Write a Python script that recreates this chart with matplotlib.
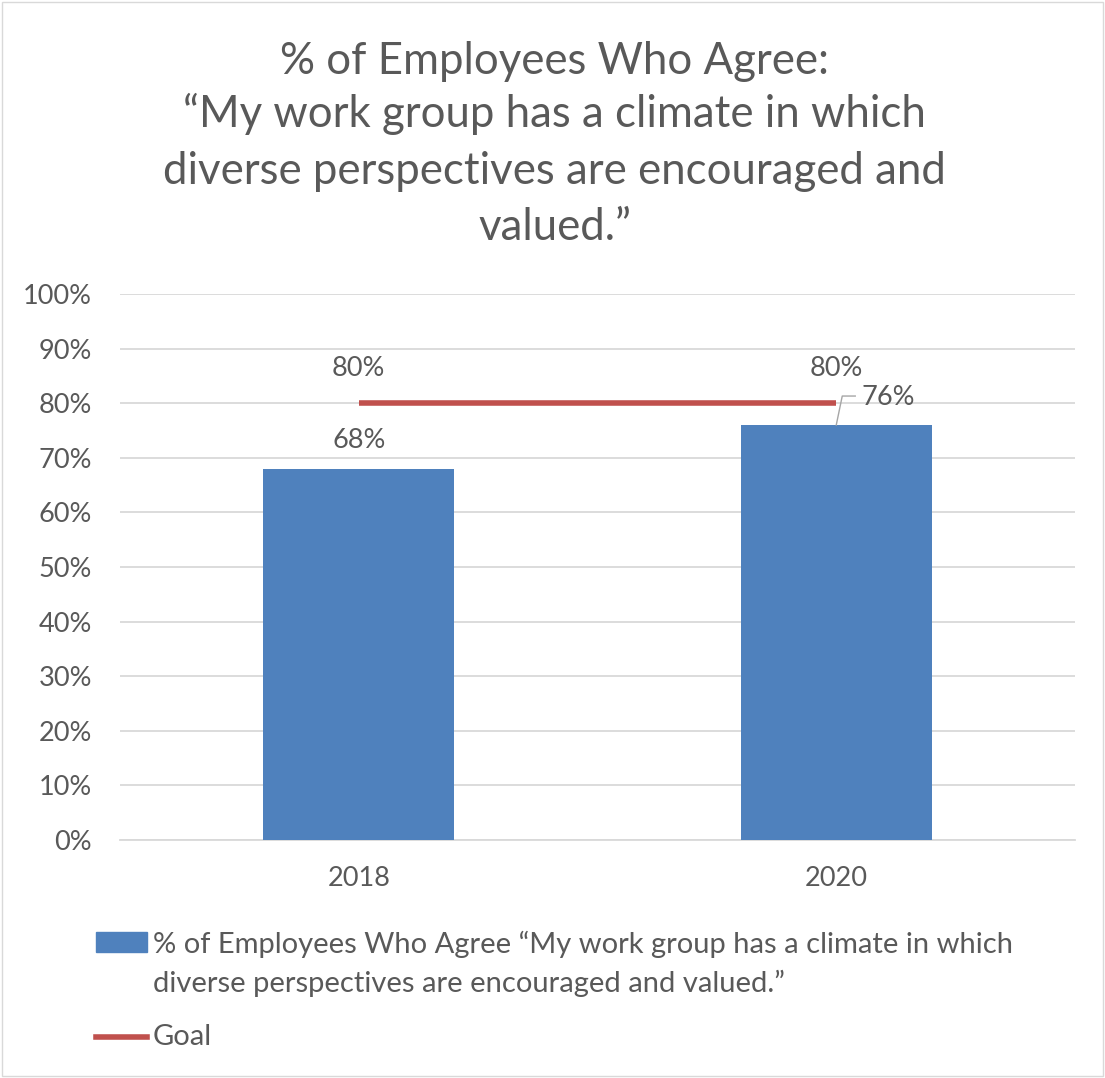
import matplotlib
matplotlib.use("Agg")
import matplotlib.pyplot as plt
from matplotlib.patches import Rectangle
from matplotlib.lines import Line2D

categories = ["2018", "2020"]
agree = [0.68, 0.76]
goal = [0.80, 0.80]
yticks = [0, 0.1, 0.2, 0.3, 0.4, 0.5, 0.6, 0.7, 0.8, 0.9, 1.0]
title_lines = ["% of Employees Who Agree:",
               "\u201cMy work group has a climate in which",
               "diverse perspectives are encouraged and",
               "valued.\u201d"]
series_label_lines = ["% of Employees Who Agree \u201cMy work group has a climate in which",
                      "diverse perspectives are encouraged and valued.\u201d"]
goal_label = "Goal"

plt.rcParams['font.family'] = ['Lato', 'DejaVu Sans']
TXT = '#595959'
BLUE = '#4f81bd'
RED = '#c0504d'
GRID = '#d9d9d9'
FS = 19.5

W, H = 1105, 1078
fig = plt.figure(figsize=(W / 100, H / 100), dpi=100)

def fx(px):
    return px / W

def fy(py):
    return 1 - py / H

# border
fig.patches.append(Rectangle((fx(2), fy(1076)), fx(1101), 1074 / H, transform=fig.transFigure,
                             fill=False, edgecolor='#d9d9d9', lw=1))

ax = fig.add_axes([fx(120), fy(840), fx(1075) - fx(120), (840 - 294) / H])
x = list(range(len(categories)))
ax.bar(x, agree, width=0.40, color=BLUE, zorder=3)
ax.plot(x, goal, color=RED, lw=4, zorder=4, solid_capstyle='butt')

ax.set_xlim(-0.5, 1.5)
ax.set_ylim(0, 1.0)
ax.set_yticks(yticks)
ax.set_yticklabels([f"{int(round(t*100))}%" for t in yticks], fontsize=FS, color=TXT)
ax.set_xticks(x)
ax.set_xticklabels(categories, fontsize=FS, color=TXT)
ax.tick_params(axis='both', length=0)
ax.tick_params(axis='y', pad=20)
ax.tick_params(axis='x', pad=19)
ax.grid(axis='y', color=GRID, lw=1.3, zorder=0)
for s in ['top', 'right', 'left']:
    ax.spines[s].set_visible(False)
ax.spines['bottom'].set_color(GRID)
ax.spines['bottom'].set_linewidth(1.3)

# data labels
ax.annotate(f"{int(round(agree[0]*100))}%", (x[0], agree[0]), xytext=(0, 20),
            textcoords='offset points', ha='center', va='center', fontsize=FS, color=TXT)
for i, g in enumerate(goal):
    ax.annotate(f"{int(round(g*100))}%", (x[i], g), xytext=(0, 25),
                textcoords='offset points', ha='center', va='center', fontsize=FS, color=TXT)
# 76% label with leader line
ax.annotate(f"{int(round(agree[1]*100))}%", xy=(x[1], agree[1]), xytext=(18.5, 19.5),
            textcoords='offset points', ha='left', va='center', fontsize=FS, color=TXT)
p0 = ax.transData.transform((x[1], agree[1]))
fig.lines.append(Line2D([fx(p0[0]), fx(p0[0] + 6), fx(p0[0] + 19)],
                        [p0[1] / H, p0[1] / H + 29 / H, p0[1] / H + 29 / H],
                        transform=fig.transFigure, color='#a6a6a6', lw=1))

# title
ys = [62, 114, 171, 228]
for t, yy in zip(title_lines, ys):
    fig.text(0.502, fy(yy), t, ha='center', va='center', fontsize=31.5, color=TXT)

# legend
fig.patches.append(Rectangle((fx(96), fy(952)), fx(147) - fx(96), 20 / H,
                             transform=fig.transFigure, color=BLUE))
for t, yy in zip(series_label_lines, [944, 983]):
    fig.text(fx(153), fy(yy), t, ha='left', va='center', fontsize=21, color=TXT)
fig.lines.append(Line2D([fx(96), fx(147)], [fy(1037), fy(1037)], transform=fig.transFigure,
                        color=RED, lw=4))
fig.text(fx(153), fy(1037), goal_label, ha='left', va='center', fontsize=21, color=TXT)

fig.savefig("out.png", dpi=100)
